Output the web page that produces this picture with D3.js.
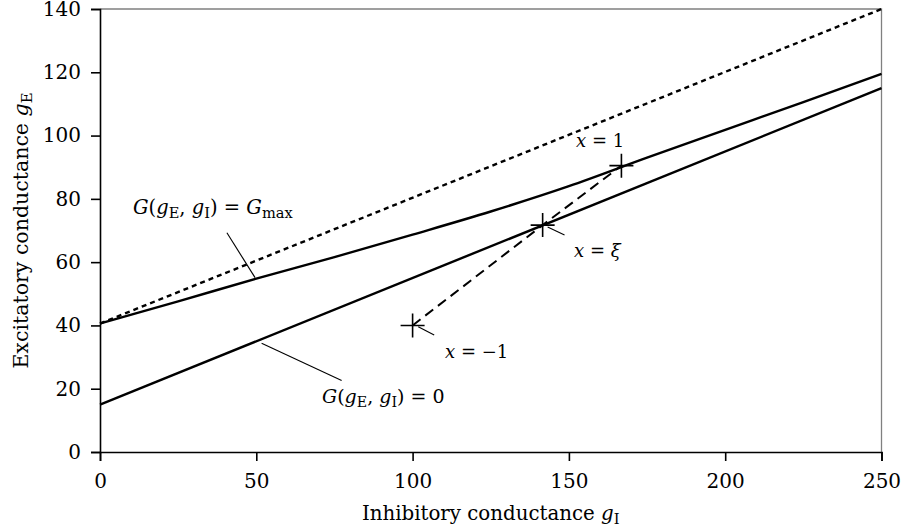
<!DOCTYPE html>
<html><head><meta charset="utf-8">
<script src="https://cdn.jsdelivr.net/npm/d3@7"></script>
<style>
body{margin:0;background:#fff;}
text{font-family:"DejaVu Serif",serif;fill:#000;}
</style></head>
<body><svg id="c" width="901" height="529"></svg>
<script>
// ---- data ----
const xTicks = [0, 50, 100, 150, 200, 250];
const yTicks = [0, 20, 40, 60, 80, 100, 120, 140];
// G(gE,gI) = Gmax boundary (slightly convex)
const gmaxGI = [0, 25, 50, 75, 100, 125, 150, 175, 200, 225, 250];
const gmaxGE = [40.6, 47.6, 54.8, 61.6, 68.7, 76.0, 84.0, 93.0, 101.8, 110.6, 119.5];
// G(gE,gI) = 0 line
const zeroGI = [0, 250];
const zeroGE = [15, 115];
// dotted bound
const dotGI = [0, 250];
const dotGE = [40.6, 140];
// marked points x = -1, xi, 1
const ptGI = [100, 141.6, 166.8];
const ptGE = [40, 71.7, 90.5];

const svg = d3.select("#c");
const x = d3.scaleLinear().domain([0, 250]).range([100, 881.5]);
const y = d3.scaleLinear().domain([0, 140]).range([452, 9]);

// frame top/right gray
svg.append("path").attr("d", `M${x(0)},${y(140)}H${x(250)}V${y(0)}`)
  .attr("fill", "none").attr("stroke", "#808080").attr("stroke-width", 1.3);

const xAxis = svg.append("g").attr("transform", `translate(0,${y(0)})`)
  .call(d3.axisBottom(x).tickValues(xTicks).tickSize(9).tickPadding(13).tickFormat(d3.format("d")));
const yAxis = svg.append("g").attr("transform", `translate(${x(0)},0)`)
  .call(d3.axisLeft(y).tickValues(yTicks).tickSize(9).tickPadding(10).tickFormat(d3.format("d")));
[xAxis, yAxis].forEach(a => {
  a.attr("font-family", "DejaVu Serif").attr("font-size", 20);
  a.select(".domain").attr("stroke", "#000").attr("stroke-width", 1.6);
  a.selectAll(".tick line").attr("stroke", "#000").attr("stroke-width", 1.6);
  a.selectAll(".tick text").attr("fill", "#000");
});

const line = d3.line().x(d => x(d[0])).y(d => y(d[1]));
const zip = (a, b) => a.map((v, i) => [v, b[i]]);

svg.append("path").datum(zip(dotGI, dotGE)).attr("d", line)
  .attr("fill", "none").attr("stroke", "#000").attr("stroke-width", 2.4).attr("stroke-dasharray", "5,4");
svg.append("path").datum(zip(gmaxGI, gmaxGE)).attr("d", line.curve(d3.curveMonotoneX))
  .attr("fill", "none").attr("stroke", "#000").attr("stroke-width", 2.4);
line.curve(d3.curveLinear);
svg.append("path").datum(zip(zeroGI, zeroGE)).attr("d", line)
  .attr("fill", "none").attr("stroke", "#000").attr("stroke-width", 2.4);

// dashed path through points
svg.append("path").datum(zip(ptGI, ptGE)).attr("d", line)
  .attr("fill", "none").attr("stroke", "#000").attr("stroke-width", 2).attr("stroke-dasharray", "10,6");

// plus markers
zip(ptGI, ptGE).forEach(p => {
  const cx = x(p[0]), cy = y(p[1]);
  svg.append("path").attr("d", `M${cx - 12},${cy}H${cx + 12}M${cx},${cy - 12}V${cy + 12}`)
    .attr("stroke", "#000").attr("stroke-width", 1.6);
});

// leader lines (data coords)
const leaders = [
  [[40.6, 69.3], [49.6, 55.1]],
  [[51.7, 34.4], [77.3, 22.6]],
  [[143.2, 71.1], [148.6, 68.6]],
  [[101.8, 39.6], [106.9, 37.0]]
];
leaders.forEach(l => {
  svg.append("line").attr("x1", x(l[0][0])).attr("y1", y(l[0][1])).attr("x2", x(l[1][0])).attr("y2", y(l[1][1]))
    .attr("stroke", "#000").attr("stroke-width", 1.1);
});

function mathText(xx, yy, parts, size) {
  const t = svg.append("text").attr("x", xx).attr("y", yy).style("font-size", size + "px");
  parts.forEach(p => {
    const s = t.append("tspan").text(p.t);
    if (p.i) s.style("font-style", "italic");
    if (p.sub) s.style("font-size", (size * 0.75) + "px").attr("dy", 4);
    if (p.up) s.attr("dy", -4);
  });
  return t;
}
mathText(133, 214, [{t:"G", i:1},{t:"("},{t:"g", i:1},{t:"E", sub:1},{t:", ", up:1},{t:"g", i:1},{t:"I", sub:1},{t:") = ", up:1},{t:"G", i:1},{t:"max", sub:1}], 19.5);
mathText(322, 403, [{t:"G", i:1},{t:"("},{t:"g", i:1},{t:"E", sub:1},{t:", ", up:1},{t:"g", i:1},{t:"I", sub:1},{t:") = 0", up:1}], 19);
mathText(576, 147, [{t:"x", i:1},{t:" = 1"}], 18);
mathText(574, 257, [{t:"x", i:1},{t:" = "},{t:"ξ", i:1}], 18);
mathText(445, 358, [{t:"x", i:1},{t:" = −1"}], 18);

// axis titles
const xt = mathText(0, 520, [{t:"Inhibitory conductance "},{t:"g", i:1},{t:"I", sub:1}], 19.8);
xt.attr("text-anchor", "middle").attr("x", (x(0) + x(250)) / 2);
const yt = svg.append("text").attr("transform", `translate(28,${(y(0) + y(140)) / 2}) rotate(-90)`)
  .attr("text-anchor", "middle").style("font-size", "20.5px");
yt.append("tspan").text("Excitatory conductance ");
yt.append("tspan").text("g").style("font-style", "italic");
yt.append("tspan").text("E").style("font-size", "15px").attr("dy", 4);
</script></body></html>
